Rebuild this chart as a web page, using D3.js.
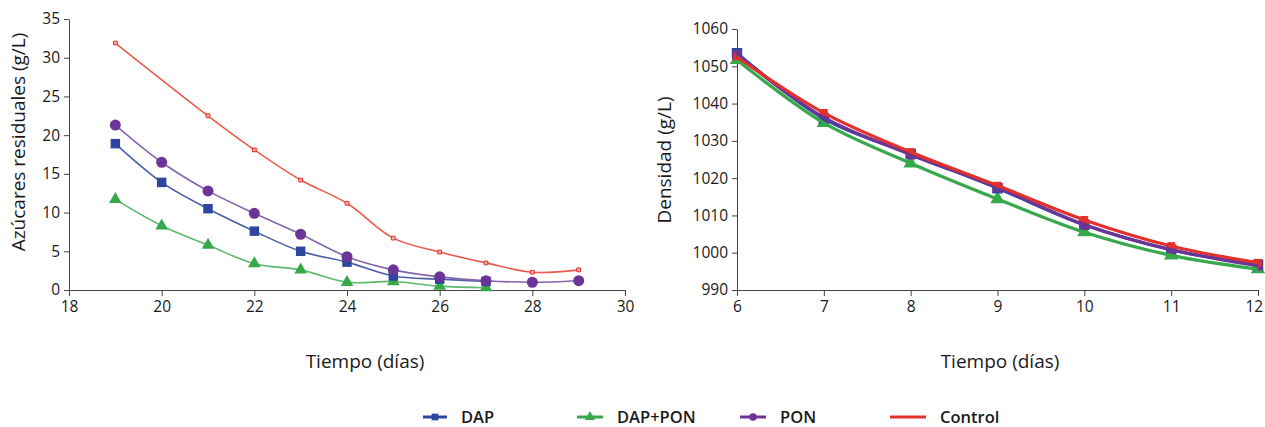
<!DOCTYPE html>
<html>
<head>
<meta charset="utf-8">
<script src="https://cdn.jsdelivr.net/npm/d3@7"></script>
<style>
  body { margin: 0; background: #fff; }
  text { font-family: "Open Sans", sans-serif; fill: #1a1a1a; }
  .axis path, .axis line { stroke: #444; }
  .axis text { font-size: 15.5px; }
</style>
</head>
<body>
<script>
var w = 1265;
var h = 427;

// Residual sugars (g/L) vs day
var dapSugarDays = [19, 20, 21, 22, 23, 24, 25, 26, 27];
var dapSugar = [18.9, 13.9, 10.5, 7.6, 5.0, 3.6, 1.8, 1.4, 1.1];
var dapPonSugarDays = [19, 20, 21, 22, 23, 24, 25, 26, 27];
var dapPonSugar = [11.7, 8.3, 5.8, 3.4, 2.6, 1.0, 1.1, 0.5, 0.3];
var ponSugarDays = [19, 20, 21, 22, 23, 24, 25, 26, 27, 28, 29];
var ponSugar = [21.3, 16.5, 12.8, 9.9, 7.2, 4.3, 2.6, 1.7, 1.2, 1.0, 1.2];
var controlSugarDays = [19, 21, 22, 23, 24, 25, 26, 27, 28, 29];
var controlSugar = [31.9, 22.5, 18.1, 14.2, 11.2, 6.7, 4.9, 3.5, 2.3, 2.6];

// Density (g/L) vs day
var densDays = [6, 7, 8, 9, 10, 11, 12];
var dapDens = [1053.5, 1036.0, 1026.5, 1017.3, 1007.5, 1000.8, 996.8];
var dapPonDens = [1051.7, 1034.8, 1024.0, 1014.4, 1005.5, 999.3, 995.6];
var ponDens = [1053.0, 1036.3, 1026.3, 1017.5, 1007.5, 1000.8, 996.5];
var controlDens = [1052.5, 1037.5, 1027.0, 1018.0, 1008.8, 1001.8, 997.3];

var sugarTicksX = [18, 20, 22, 24, 26, 28, 30];
var sugarTicksY = [0, 5, 10, 15, 20, 25, 30, 35];
var densTicksX = [6, 7, 8, 9, 10, 11, 12];
var densTicksY = [990, 1000, 1010, 1020, 1030, 1040, 1050, 1060];

var seriesNames = ["DAP", "DAP+PON", "PON", "Control"];
var colors = { "DAP": "#2c479d", "DAP+PON": "#37a94b", "PON": "#6b3597", "Control": "#e3302b" };
var lineColorsL = { "DAP": "#4b5ea8", "DAP+PON": "#5cb86a", "PON": "#8565ac", "Control": "#ec5a4c" };

function zip(xs, ys) {
    return xs.map(function(x, i) { return [x, ys[i]]; });
}

var svg = d3.select("body").append("svg")
    .attr("width", w)
    .attr("height", h);

//Scales
var xL = d3.scaleLinear().domain([18, 30]).range([69, 625]);
var yL = d3.scaleLinear().domain([0, 35]).range([290, 19]);
var xR = d3.scaleLinear().domain([6, 12]).range([737, 1258]);
var yR = d3.scaleLinear().domain([990, 1060]).range([290, 29]);

function drawAxes(x, y, xt, yt) {
    var gx = svg.append("g").attr("class", "axis")
        .attr("transform", "translate(0," + y.range()[0] + ")")
        .call(d3.axisBottom(x).tickValues(xt).tickFormat(d3.format("d"))
            .tickSize(6).tickSizeOuter(0).tickPadding(5));
    svg.append("g").attr("class", "axis")
        .attr("transform", "translate(" + x.range()[0] + ",0)")
        .call(d3.axisLeft(y).tickValues(yt).tickFormat(d3.format("d"))
            .tickSize(5).tickSizeOuter(0).tickPadding(4));
    return gx;
}
drawAxes(xL, yL, sugarTicksX, sugarTicksY);
var gxR = drawAxes(xR, yR, densTicksX, densTicksY);
// keep last label inside the page
gxR.selectAll(".tick:last-of-type text").attr("text-anchor", "end").attr("dx", "0.3em");

function marker(g, type, size, fill, stroke) {
    var sym = type == "square" ? d3.symbolSquare : type == "triangle" ? d3.symbolTriangle : d3.symbolCircle;
    return g.append("path")
        .attr("d", d3.symbol().type(sym).size(size))
        .attr("fill", fill)
        .attr("stroke", stroke || "none");
}

//Left chart
var leftSeries = [
    { name: "DAP+PON", pts: zip(dapPonSugarDays, dapPonSugar), m: "triangle", s: 70 },
    { name: "DAP", pts: zip(dapSugarDays, dapSugar), m: "square", s: 90 },
    { name: "PON", pts: zip(ponSugarDays, ponSugar), m: "circle", s: 95 },
    { name: "Control", pts: zip(controlSugarDays, controlSugar), m: "square", s: 14 }
];
var lineL = d3.line()
    .x(function(d) { return xL(d[0]); })
    .y(function(d) { return yL(d[1]); })
    .curve(d3.curveCatmullRom.alpha(0.5));

leftSeries.forEach(function(s) {
    svg.append("path")
        .attr("d", lineL(s.pts))
        .attr("fill", "none")
        .attr("stroke", lineColorsL[s.name])
        .attr("stroke-width", 1.6);
    s.pts.forEach(function(d) {
        var g = svg.append("g").attr("transform", "translate(" + xL(d[0]) + "," + yL(d[1]) + ")");
        if (s.name == "Control") marker(g, s.m, s.s, "#f6b0a8", colors[s.name]).attr("stroke-width", 1);
        else marker(g, s.m, s.s, colors[s.name]);
    });
});

//Right chart
var rightSeries = [
    { name: "DAP+PON", pts: zip(densDays, dapPonDens), m: "triangle", s: 90 },
    { name: "DAP", pts: zip(densDays, dapDens), m: "square", s: 110 },
    { name: "PON", pts: zip(densDays, ponDens), m: "square", s: 90 },
    { name: "Control", pts: zip(densDays, controlDens), m: "square", s: 60 }
];
var lineR = d3.line()
    .x(function(d) { return xR(d[0]); })
    .y(function(d) { return yR(d[1]); })
    .curve(d3.curveCatmullRom.alpha(0.5));

rightSeries.forEach(function(s) {
    s.pts.forEach(function(d) {
        var g = svg.append("g").attr("transform", "translate(" + xR(d[0]) + "," + yR(d[1]) + ")");
        marker(g, s.m, s.s, colors[s.name]);
    });
});
rightSeries.forEach(function(s) {
    svg.append("path")
        .attr("d", lineR(s.pts))
        .attr("fill", "none")
        .attr("stroke", colors[s.name])
        .attr("stroke-width", 3.2);
});

//Axis titles
svg.append("text")
    .attr("transform", "translate(25,142) rotate(-90)")
    .attr("text-anchor", "middle")
    .attr("font-size", "19px")
    .text("Azúcares residuales (g/L)");
svg.append("text")
    .attr("transform", "translate(671,160) rotate(-90)")
    .attr("text-anchor", "middle")
    .attr("font-size", "19px")
    .text("Densidad (g/L)");
svg.append("text")
    .attr("x", 365).attr("y", 368)
    .attr("text-anchor", "middle")
    .attr("font-size", "19px")
    .text("Tiempo (días)");
svg.append("text")
    .attr("x", 1000).attr("y", 368)
    .attr("text-anchor", "middle")
    .attr("font-size", "19px")
    .text("Tiempo (días)");

//Legend
var legendX = [423, 577, 740, 890];
var legendLen = [24, 26, 26, 36];
var legendMarkers = ["square", "triangle", "circle", null];
seriesNames.forEach(function(name, i) {
    var g = svg.append("g").attr("transform", "translate(" + legendX[i] + ",417)");
    g.append("line")
        .attr("x1", 0).attr("x2", legendLen[i])
        .attr("stroke", colors[name])
        .attr("stroke-width", 3);
    if (legendMarkers[i]) {
        marker(g.append("g").attr("transform", "translate(" + legendLen[i] / 2 + ",0)"),
            legendMarkers[i], 45, colors[name]);
    }
    g.append("text")
        .attr("x", legendLen[i] + 14).attr("y", 6)
        .attr("font-size", "16.5px")
        .attr("font-weight", 600)
        .text(name);
});
</script>
</body>
</html>
